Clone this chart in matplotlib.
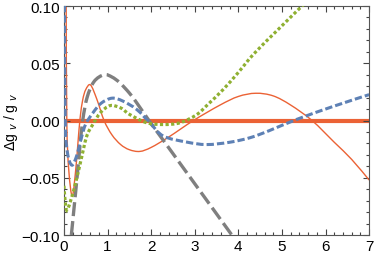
import numpy as np
from matplotlib import pyplot as plt
from matplotlib.path import Path
from matplotlib.patches import PathPatch
from matplotlib.ticker import MultipleLocator, FuncFormatter

plt.rcParams['font.family'] = ['Liberation Sans', 'DejaVu Sans']

# curves, x then y
gray_x = [0.17, 0.23, 0.30, 0.36, 0.43, 0.53, 0.69, 0.92, 1.10, 1.28, 1.50, 1.67, 1.95, 2.30, 2.80, 3.30, 3.85]
gray_y = [-0.10, -0.077, -0.05, -0.025, 0.0, 0.02, 0.034, 0.040, 0.038, 0.033, 0.024, 0.0154, 0.0, -0.0184, -0.0447, -0.071, -0.10]

blue_x = [0.01, 0.03, 0.08, 0.18, 0.29, 0.40, 0.50, 0.67, 0.85, 1.10, 1.35, 1.67, 1.97, 2.28, 2.81, 3.27, 3.80, 4.27, 4.70, 5.34, 6.19, 7.0]
blue_y = [0.11, 0.0, -0.028, -0.039, -0.031, -0.015, -0.003, 0.007, 0.015, 0.0195, 0.017, 0.0096, -0.002, -0.0136, -0.0188, -0.021, -0.019, -0.015, -0.009, 0.001, 0.0125, 0.0226]

green_x = [0.0, 0.04, 0.09, 0.23, 0.37, 0.52, 0.67, 0.84, 1.06, 1.30, 1.51, 1.90, 2.28, 2.66, 3.04, 3.30, 3.65, 4.00, 4.35, 4.90, 5.46, 5.60]
green_y = [-0.057, -0.075, -0.077, -0.06, -0.038, -0.014, -0.003, 0.007, 0.013, 0.011, 0.0052, -0.002, -0.0035, -0.002, 0.005, 0.014, 0.027, 0.042, 0.058, 0.079, 0.10, 0.105]

orange_x = [0.05, 0.065, 0.11, 0.19, 0.27, 0.32, 0.37, 0.43, 0.50, 0.61, 0.76, 0.92, 1.10, 1.30, 1.50, 1.74, 2.00, 2.40, 2.97, 3.58, 4.00, 4.40, 4.80, 5.20, 5.69, 6.20, 6.60, 7.0]
orange_y = [0.11, 0.0, -0.043, -0.066, -0.043, -0.02, 0.002, 0.018, 0.027, 0.031, 0.018, 0.0, -0.0125, -0.021, -0.0255, -0.027, -0.0235, -0.0145, 0.0, 0.0135, 0.021, 0.0238, 0.0215, 0.0135, 0.0, -0.019, -0.034, -0.052]

ref_x = [0.0, 7.0]
ref_y = [0.0, 0.0]


def smooth_path(ax, xs, ys):
    # cubic bezier through the points, in display space so the shape is not skewed
    pts = ax.transData.transform(np.column_stack([xs, ys]))
    verts = [pts[0]]
    codes = [Path.MOVETO]
    n = len(pts)
    for i in range(n - 1):
        p0 = pts[max(i - 1, 0)]
        p1 = pts[i]
        p2 = pts[i + 1]
        p3 = pts[min(i + 2, n - 1)]
        c1 = p1 + (p2 - p0) / 6.0
        c2 = p2 - (p3 - p1) / 6.0
        verts += [c1, c2, p2]
        codes += [Path.CURVE4] * 3
    return Path(np.array(verts), codes)


fig = plt.figure(figsize=(3.74, 2.55), dpi=100)
ax = fig.add_axes([0.171, 0.0745, 0.816, 0.898])
ax.set_xlim(0, 7)
ax.set_ylim(-0.1, 0.1)

ax.plot(ref_x, ref_y, color='#eb6235', lw=3.0, solid_capstyle='butt', zorder=1)

styles = [
    (orange_x, orange_y, dict(color='#eb6235', lw=1.0, zorder=2)),
    (gray_x, gray_y, dict(color='#7f7f7f', lw=2.4, linestyle=(0, (4.2, 1.5)), zorder=3)),
    (blue_x, blue_y, dict(color='#5e81b5', lw=2.2, linestyle=(0, (2.4, 1.0)), zorder=4)),
    (green_x, green_y, dict(color='#8fb032', lw=2.3, linestyle=(0, (1.0, 0.75)), zorder=5)),
]
for xs, ys, kw in styles:
    patch = PathPatch(smooth_path(ax, xs, ys), facecolor='none', edgecolor=kw['color'],
                      lw=kw['lw'], linestyle=kw.get('linestyle', '-'), zorder=kw['zorder'],
                      transform=None, capstyle='butt')
    patch.set_clip_box(ax.bbox)
    ax.add_artist(patch)

ax.xaxis.set_major_locator(MultipleLocator(1))
ax.xaxis.set_minor_locator(MultipleLocator(0.2))
ax.yaxis.set_major_locator(MultipleLocator(0.05))
ax.yaxis.set_minor_locator(MultipleLocator(0.01))
ax.yaxis.set_major_formatter(FuncFormatter(lambda v, p: f'{v:.2f}'.replace('-', '\u2212')))
ax.tick_params(which='both', direction='in', top=True, right=True, color='#444444', labelsize=11, width=0.8)
ax.tick_params(which='major', length=4.5, pad=3)
ax.tick_params(which='minor', length=2.5)
for s in ax.spines.values():
    s.set_color('#555555')
    s.set_linewidth(0.8)

# axis label, placed left of the tick labels
fig.text(11 / 374, 0.5235, r'$\Delta$g $_{v}$ / g $_{v}$', fontsize=10, rotation=90,
         ha='center', va='center')

fig.savefig('out.png', dpi=100)
